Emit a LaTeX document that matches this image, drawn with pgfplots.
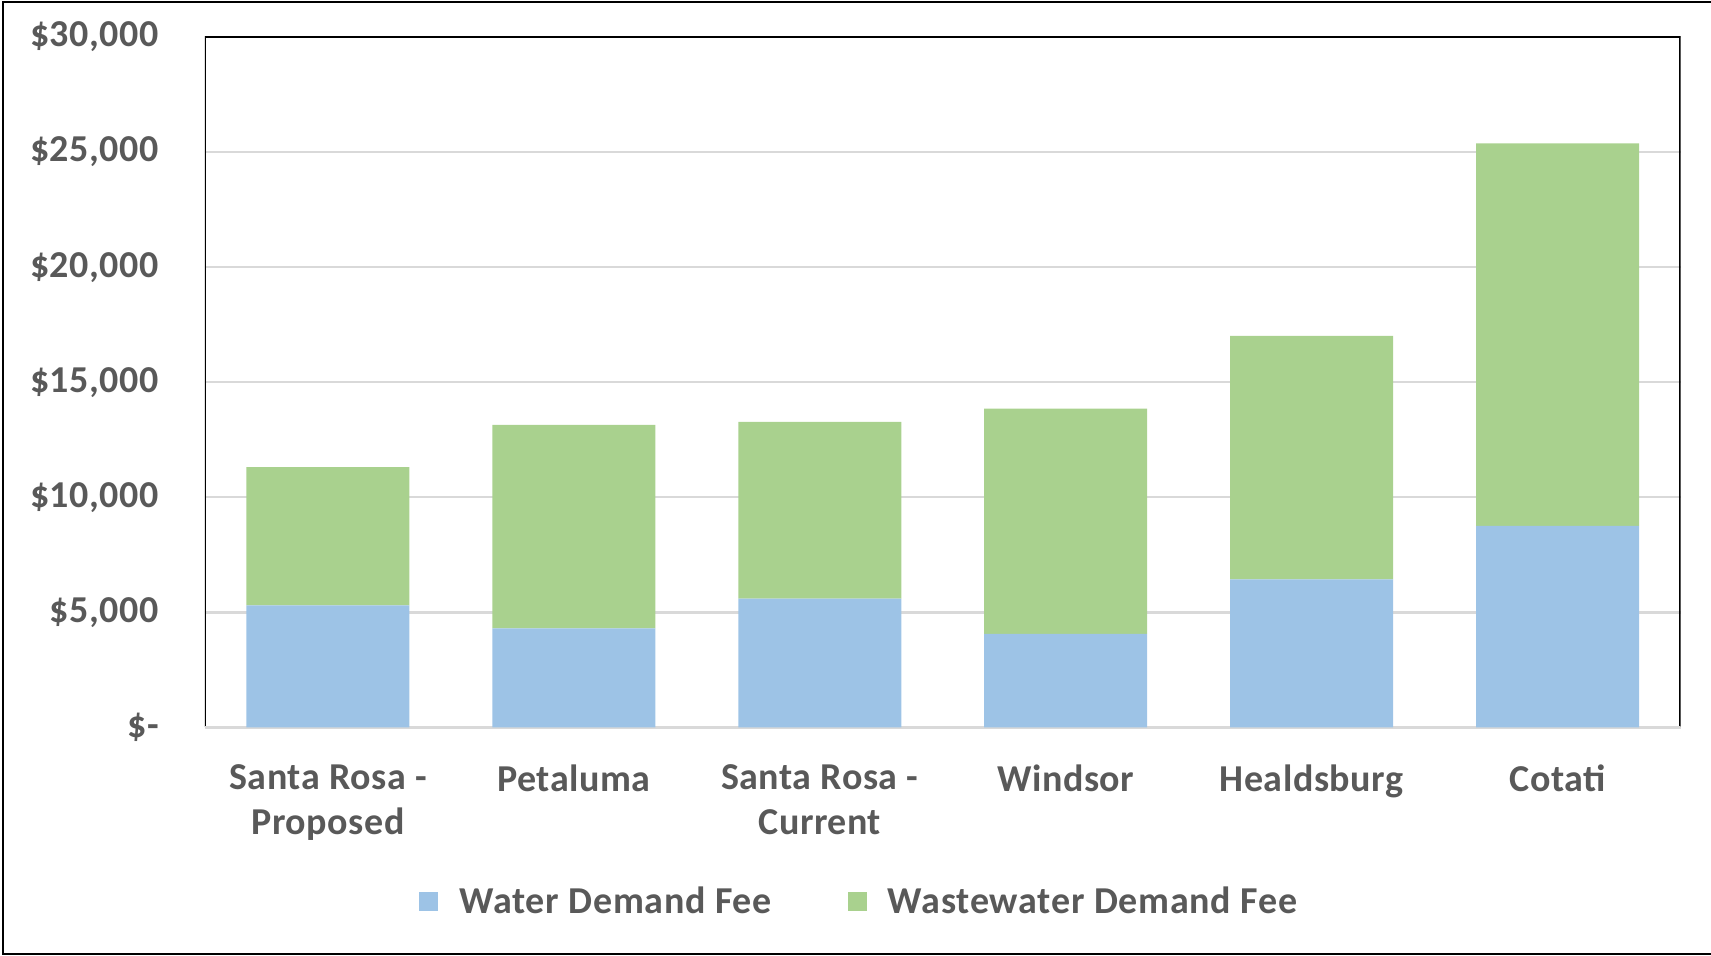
\documentclass[border=0pt]{standalone}
\usepackage{pgfplots}
\usepackage{pgfplotstable}
\pgfplotsset{compat=1.18}
\usepackage{fontspec}
\setmainfont{Carlito}
\definecolor{waterblue}{HTML}{9DC3E6}
\definecolor{wastegreen}{HTML}{A9D18E}
\definecolor{txtgray}{HTML}{595959}
\definecolor{gridgray}{HTML}{D9D9D9}

\pgfplotstableread{
x water waste
0 5310 6000
1 4310 8840
2 5600 7680
3 4070 9780
4 6440 10570
5 8760 16620
}\datatable

\begin{document}
\begin{tikzpicture}
\useasboundingbox (-102.5pt,-114.25pt) rectangle (753pt,363.75pt);
\draw[black, line width=1.1pt] (-100.8pt,-113.4pt) rectangle (756pt,362.6pt);
\begin{axis}[
  at={(0pt,0pt)}, anchor=south west,
  scale only axis,
  width=737.75pt, height=345.25pt,
  ybar stacked,
  bar width=81.5pt,
  xmin=-0.5, xmax=5.5,
  ymin=0, ymax=30000,
  scaled y ticks=false,
  xtick=data,
  xticklabels={{Santa Rosa -\\Proposed},{Petaluma},{Santa Rosa -\\Current},{Windsor},{Healdsburg},{Cotati}},
  ytick={0,5000,10000,15000,20000,25000,30000},
  yticklabels={{\$-\hspace{7.5pt}},{\$5,000},{\$10,000},{\$15,000},{\$20,000},{\$25,000},{\$30,000}},
  major tick length=0pt,
  axis line style={draw=none},
  ymajorgrids,
  major grid style={gridgray, line width=1.1pt},
  tick label style={font=\fontsize{19}{22.5}\selectfont\bfseries\addfontfeature{LetterSpace=1.5}, text=txtgray},
  xticklabel style={align=center, yshift=-15pt},
  yticklabel style={xshift=-19.5pt},
  legend columns=2,
  legend style={draw=none, fill=none, at={(0.4442,-0.252)}, anchor=center,
    font=\fontsize{19}{24}\selectfont\bfseries\addfontfeature{LetterSpace=2}, text=txtgray,
    /tikz/every odd column/.append style={column sep=8.5pt},
    /tikz/every even column/.append style={column sep=36pt}},
  legend image code/.code={\fill[#1] (0pt,-4.75pt) rectangle (9.5pt,4.75pt);},
  every axis plot/.append style={draw=none},
]
\addplot[fill=waterblue, draw=none] table[x=x, y=water] {\datatable};
\addlegendentry{Water Demand Fee}
\addplot[fill=wastegreen, draw=none] table[x=x, y=waste] {\datatable};
\addlegendentry{Wastewater Demand Fee}
\draw[gridgray, line width=1.4pt] (axis description cs:0,0) -- (axis description cs:1,0);
\draw[black, line width=1.1pt] (axis description cs:0,0) -- (axis description cs:0,1) -- (axis description cs:1,1) -- (axis description cs:1,0);
\end{axis}
\end{tikzpicture}
\end{document}
